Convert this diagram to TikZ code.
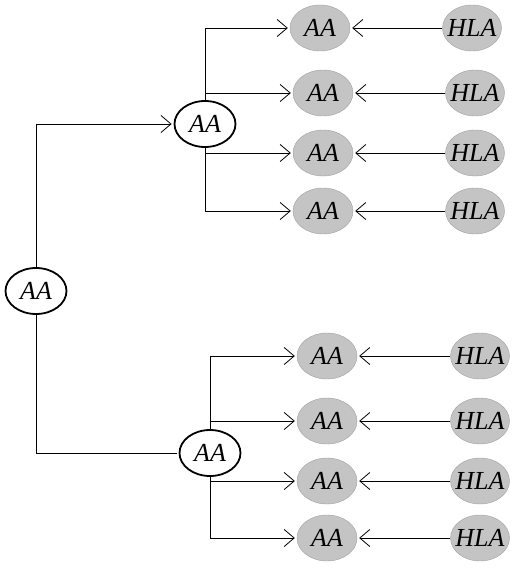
\documentclass[tikz,border=0pt]{standalone}
\usepackage{fontspec}
\setmainfont{Liberation Serif}
\usetikzlibrary{shapes.geometric,arrows.meta}

\definecolor{nodegray}{RGB}{196,196,196}
\definecolor{bordergray}{RGB}{160,160,160}

\tikzset{
	treepicture/.style = {
		x = 1pt,
		y = -1pt,
		font = \fontsize{26}{26}\selectfont\itshape,
		>={Straight Barb[length=10pt,width=17pt]},
		arrow/.style = {
			draw,
			->,
			line width = 0.8pt,
			shorten >=2pt,
		},
		line/.style = {
			draw,
			line width = 0.8pt,
		}
	},
	rootnode/.style = {
		ellipse,
		draw = black,
		line width = 1.8pt,
		fill = white,
		inner xsep = -8pt,
		inner ysep = 0pt,
		minimum width = 61pt,
		minimum height = 46pt
	},
	aanode/.style = {
		ellipse,
		draw = bordergray,
		fill = nodegray,
		inner xsep = -8pt,
		inner ysep = 0pt,
		minimum width = 60pt,
		minimum height = 46pt
	},
	hlanode/.style = {
		aanode,
		minimum width = 59pt
	}
}

\begin{document}
\begin{tikzpicture}[treepicture]
	\useasboundingbox (0,0) rectangle (519,572);

	\node[rootnode] (R) at (36,291) {AA};
	\node[rootnode] (M1) at (205,124) {AA};
	\node[rootnode] (M2) at (210,453) {AA};

	\node[aanode] (A1) at (320,28) {AA};
	\node[aanode] (A2) at (323,93) {AA};
	\node[aanode] (A3) at (323,153) {AA};
	\node[aanode] (A4) at (323,211) {AA};
	\node[aanode] (A5) at (327,356) {AA};
	\node[aanode] (A6) at (327,421) {AA};
	\node[aanode] (A7) at (327,481) {AA};
	\node[aanode] (A8) at (327,538) {AA};

	\node[hlanode] (H1) at (472,28) {HLA};
	\node[hlanode] (H2) at (475,93) {HLA};
	\node[hlanode] (H3) at (475,153) {HLA};
	\node[hlanode] (H4) at (475,211) {HLA};
	\node[hlanode] (H5) at (480,356) {HLA};
	\node[hlanode] (H6) at (480,421) {HLA};
	\node[hlanode] (H7) at (480,481) {HLA};
	\node[hlanode] (H8) at (480,538) {HLA};

	\begin{scope}[every path/.style = arrow]
		\path (R.north) |- (M1);
		\path[line, -] (R.south) |- (M2);

		\path (M1.north) |- (A1);
		\path (M1.north) |- (A2);
		\path (M1.south) |- (A3);
		\path (M1.south) |- (A4);

		\path (M2.north) |- (A5);
		\path (M2.north) |- (A6);
		\path (M2.south) |- (A7);
		\path (M2.south) |- (A8);

		\path (H1) -- (A1);
		\path (H2) -- (A2);
		\path (H3) -- (A3);
		\path (H4) -- (A4);
		\path (H5) -- (A5);
		\path (H6) -- (A6);
		\path (H7) -- (A7);
		\path (H8) -- (A8);
	\end{scope}
\end{tikzpicture}
\end{document}
